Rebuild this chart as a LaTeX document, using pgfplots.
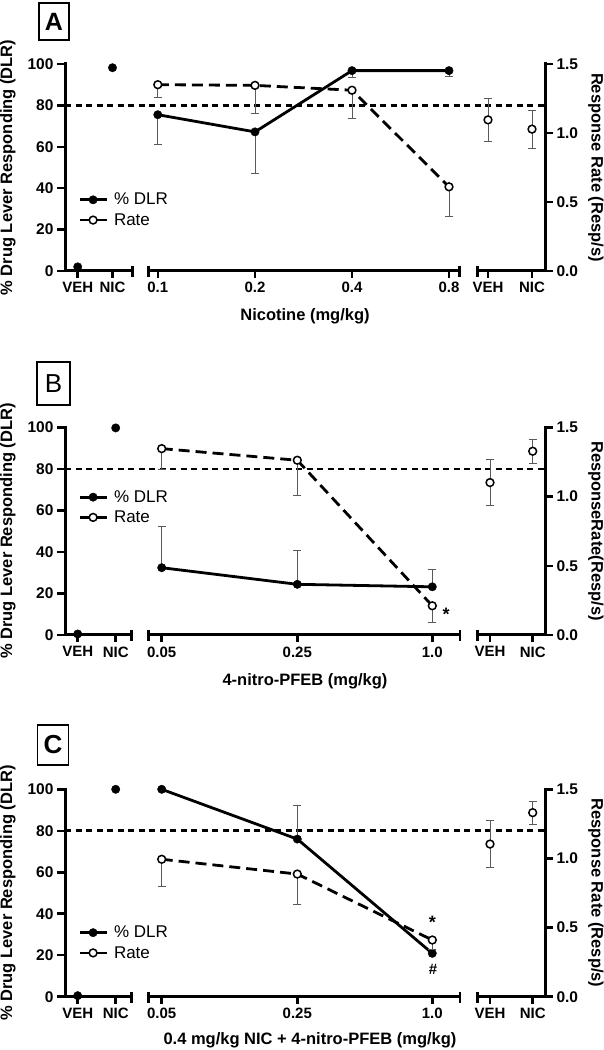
\documentclass[border=0pt]{standalone}
\usepackage{fontspec}
\setmainfont{Liberation Sans}
\usepackage{pgfplots}
\pgfplotsset{compat=1.18}
\newcommand{\tickfont}{\fontsize{15}{15}\selectfont\bfseries}
\newcommand{\ytickfont}{\fontsize{15.5}{15.5}\selectfont\bfseries}
\newcommand{\labfont}{\fontsize{16.5}{16.5}\selectfont\bfseries}
\pgfplotsset{
  dlraxis/.style={scale only axis, width=480pt, xmin=0, xmax=480, ymin=0, ymax=100,
    clip=false, anchor=south west,
    axis y line*=left, axis x line*=bottom,
    axis line style={line width=3pt, line cap=rect},
    x axis line style={draw=none}, xtick style={draw=none},
    ytick style={line width=2.5pt, black},
    tick align=outside, major tick length=8pt,
    ytick={0,20,40,60,80,100}, yticklabels={0,20,40,60,80,100},
    yticklabel style={font=\ytickfont},
    xticklabel style={font=\tickfont},
    legend cell align=left,
    legend style={anchor=west, draw=none, fill=none, inner sep=0pt,
      font=\fontsize{17}{17}\selectfont, row sep=5pt, column sep=5pt,
      nodes={inner sep=1pt}},
    legend image code/.code={\draw[mark repeat=2,mark phase=2,##1,solid] plot coordinates {(0pt,0pt) (13.5pt,0pt) (27pt,0pt)};}
  },
  rateaxis/.style={scale only axis, width=480pt, xmin=0, xmax=480, ymin=0, ymax=1.5,
    clip=false, anchor=south west,
    axis y line*=right, axis x line=none,
    axis line style={line width=3pt, line cap=rect},
    ytick style={line width=2.5pt, black},
    tick align=outside, major tick length=8pt,
    ytick={0,0.5,1,1.5}, yticklabels={0.0,0.5,1.0,1.5},
    yticklabel style={font=\ytickfont}
  },
  refline/.style={forget plot, line width=2.6pt, black, dash pattern=on 6pt off 4.5pt},
  dlrline/.style={line width=2.8pt, black, mark=*, mark size=4.2pt, mark options={solid, fill=black, line width=0.4pt}},
  dlrmark/.style={only marks, black, mark=*, mark size=4.2pt, mark options={fill=black, line width=0.4pt}},
  rateline/.style={line width=2.8pt, black, dash pattern=on 11pt off 6pt, mark=*, mark size=3.9pt,
    mark options={solid, fill=white, draw=black, line width=1.5pt}},
  ratemark/.style={only marks, black, mark=*, mark size=3.9pt,
    mark options={fill=white, draw=black, line width=1.5pt}},
  errbar/.style={forget plot, draw=none, mark=none,
    error bars/y explicit,
    error bars/error bar style={line width=0.9pt, draw=black!65, solid},
    error bars/error mark options={rotate=90, mark size=4pt, line width=0.9pt, draw=black!65, solid}},
}
\newcommand{\xsegs}[4]{%
  \draw[line width=3pt] (axis cs:0,0) -- (axis cs:#1,0);
  \draw[line width=3pt] (axis cs:#2,0) -- (axis cs:#3,0);
  \draw[line width=3pt] (axis cs:#4,0) -- (axis cs:480,0);
  \draw[line width=2.5pt] (axis cs:#1,0) ++(0,5pt) -- ++(0,-11pt);
  \draw[line width=2.5pt] (axis cs:#2,0) ++(0,5pt) -- ++(0,-11pt);
  \draw[line width=2.5pt] (axis cs:#3,0) ++(0,5pt) -- ++(0,-11pt);
  \draw[line width=2.5pt] (axis cs:#4,0) ++(0,5pt) -- ++(0,-11pt);
}
\newcommand{\xtk}[1]{\draw[line width=2.5pt] (axis cs:#1,0) -- ++(0,-7pt);}
\begin{document}
\begin{tikzpicture}[x=1pt,y=1pt]
\useasboundingbox (0,0) rectangle (604,1050);

% ================= Panel A =================
\begin{axis}[dlraxis, at={(65pt,779pt)}, height=207pt,
  xtick={12.7,47.5,92.8,190,287,384,423,467},
  xticklabels={VEH,NIC,0.1,0.2,0.4,0.8,VEH,NIC},
  legend style={at={(axis cs:13,29.5)}}]
\addplot[refline] coordinates {(0,80) (480,80)};
\addplot[errbar, error bars/y dir=minus] coordinates {(92.8,75.5) +- (0,14.5) (190,67.2) +- (0,20.2) (287,96.8) +- (0,3.2) (384,96.8) +- (0,2.8)};
\addplot[dlrline] coordinates {(92.8,75.5) (190,67.2) (287,96.8) (384,96.8)};
\addlegendentry{\% DLR}
\addplot[dlrmark, forget plot] coordinates {(12.7,2) (47.5,98.2)};
\addlegendimage{rateline}
\addlegendentry{Rate}
\xsegs{67.5}{83.3}{394.5}{412.5}
\xtk{12.7}\xtk{47.5}\xtk{92.8}\xtk{190}\xtk{287}\xtk{384}\xtk{423}\xtk{467}
\end{axis}
\begin{axis}[rateaxis, at={(65pt,779pt)}, height=207pt]
\addplot[errbar, error bars/y dir=minus] coordinates {(92.8,1.35) +- (0,0.093) (190,1.345) +- (0,0.203) (287,1.31) +- (0,0.206) (384,0.61) +- (0,0.212)};
\addplot[errbar, error bars/y dir=both] coordinates {(423,1.095) +- (0,0.155) (467,1.028) +- (0,0.138)};
\addplot[rateline] coordinates {(92.8,1.35) (190,1.345) (287,1.31) (384,0.61)};
\addplot[ratemark] coordinates {(423,1.095) (467,1.028)};
\end{axis}
\node[draw, line width=1.6pt, minimum width=30pt, minimum height=37pt, inner sep=0pt, font=\fontsize{25}{25}\selectfont\bfseries] at (54,1028.5) {A};
\node[rotate=90, font=\labfont] at (8,882.5) {\% Drug Lever Responding (DLR)};
\node[rotate=-90, font=\labfont] at (596,882.5) {Response Rate (Resp/s)};
\node[font=\labfont] at (305,733.3) {Nicotine (mg/kg)};

% ================= Panel B =================
\begin{axis}[dlraxis, at={(65pt,415pt)}, height=207.7pt,
  xtick={12.7,50.7,96.7,232.3,367.3,425,467.7},
  xticklabels={VEH,NIC,0.05,0.25,1.0,VEH,NIC},
  legend style={at={(axis cs:13,61.5)}}]
\addplot[refline] coordinates {(0,80) (480,80)};
\addplot[errbar, error bars/y dir=plus] coordinates {(96.7,32.4) +- (0,20) (232.3,24.4) +- (0,16.1) (367.3,23.2) +- (0,8.2)};
\addplot[dlrline] coordinates {(96.7,32.4) (232.3,24.4) (367.3,23.2)};
\addlegendentry{\% DLR}
\addplot[dlrmark, forget plot] coordinates {(12.7,0.5) (50.7,99.7)};
\addlegendimage{rateline}
\addlegendentry{Rate}
\xsegs{66.7}{83.3}{395}{412.3}
\xtk{12.7}\xtk{50.7}\xtk{96.7}\xtk{232.3}\xtk{367.3}\xtk{425}\xtk{467.7}
\node[font=\fontsize{18}{18}\selectfont\bfseries] at (axis cs:381,10) {*};
\end{axis}
\begin{axis}[rateaxis, at={(65pt,415pt)}, height=207.7pt]
\addplot[errbar, error bars/y dir=minus] coordinates {(96.7,1.346) +- (0,0.15) (232.3,1.262) +- (0,0.252) (367.3,0.211) +- (0,0.117)};
\addplot[errbar, error bars/y dir=both] coordinates {(425,1.101) +- (0,0.168) (467.7,1.327) +- (0,0.085)};
\addplot[rateline] coordinates {(96.7,1.346) (232.3,1.262) (367.3,0.211)};
\addplot[ratemark] coordinates {(425,1.101) (467.7,1.327)};
\end{axis}
\node[draw, line width=1.6pt, minimum width=33pt, minimum height=43pt, inner sep=0pt, font=\fontsize{26}{26}\selectfont] at (53.5,666.5) {B};
\node[rotate=90, font=\labfont] at (8,519) {\% Drug Lever Responding (DLR)};
\node[rotate=-90, font=\labfont] at (596,519) {ResponseRate(Resp/s)};
\node[font=\labfont] at (305,368.3) {4-nitro-PFEB (mg/kg)};

% ================= Panel C =================
\begin{axis}[dlraxis, at={(65pt,53.3pt)}, height=207.4pt,
  xtick={12.7,50.7,96.7,232.3,367.3,425,467.7},
  xticklabels={VEH,NIC,0.05,0.25,1.0,VEH,NIC},
  legend style={at={(axis cs:13,26)}}]
\addplot[refline] coordinates {(0,80) (480,80)};
\addplot[errbar, error bars/y dir=plus] coordinates {(232.3,76) +- (0,16)};
\addplot[dlrline] coordinates {(96.7,100) (232.3,76) (367.3,20.9)};
\addlegendentry{\% DLR}
\addplot[dlrmark, forget plot] coordinates {(12.7,0.5) (50.7,100)};
\addlegendimage{rateline}
\addlegendentry{Rate}
\xsegs{66.7}{83.3}{395}{412.3}
\xtk{12.7}\xtk{50.7}\xtk{96.7}\xtk{232.3}\xtk{367.3}\xtk{425}\xtk{467.7}
\node[font=\fontsize{18}{18}\selectfont\bfseries] at (axis cs:367.3,36) {*};
\node[font=\fontsize{15}{15}\selectfont\bfseries] at (axis cs:368,13.2) {\#};
\end{axis}
\begin{axis}[rateaxis, at={(65pt,53.3pt)}, height=207.4pt]
\addplot[errbar, error bars/y dir=minus] coordinates {(96.7,0.994) +- (0,0.198) (232.3,0.887) +- (0,0.217) (367.3,0.41) +- (0,0.07)};
\addplot[errbar, error bars/y dir=both] coordinates {(425,1.104) +- (0,0.168) (467.7,1.331) +- (0,0.084)};
\addplot[rateline] coordinates {(96.7,0.994) (232.3,0.887) (367.3,0.41)};
\addplot[ratemark] coordinates {(425,1.104) (467.7,1.331)};
\end{axis}
\node[draw, line width=1.6pt, minimum width=31pt, minimum height=40pt, inner sep=0pt, font=\fontsize{26}{26}\selectfont\bfseries] at (53,305) {C};
\node[rotate=90, font=\labfont] at (8,157) {\% Drug Lever Responding (DLR)};
\node[rotate=-90, font=\labfont] at (596,157) {Response Rate (Resp/s)};
\node[font=\labfont] at (310,10) {0.4 mg/kg NIC + 4-nitro-PFEB (mg/kg)};
\end{tikzpicture}
\end{document}
